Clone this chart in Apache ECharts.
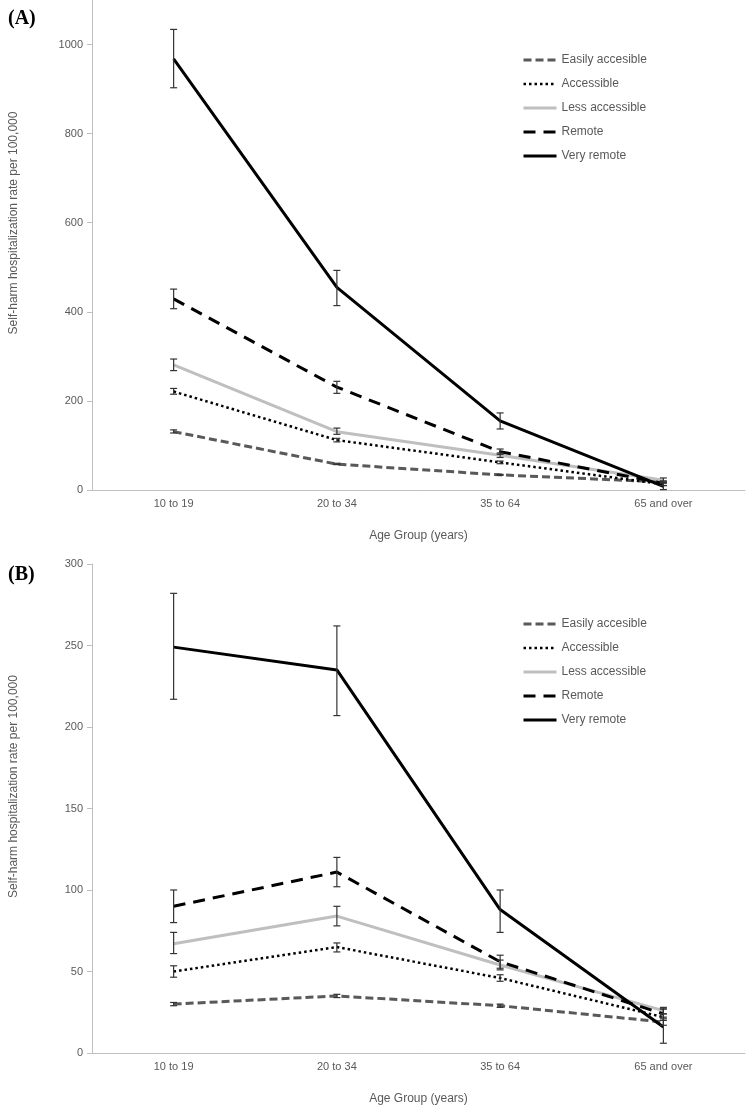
<!DOCTYPE html>
<html>
<head>
<meta charset="utf-8">
<script src="https://cdn.jsdelivr.net/npm/echarts@6/dist/echarts.min.js"></script>
<style>
html,body{margin:0;padding:0;background:#fff;}
#c{width:746px;height:1106px;}
</style>
</head>
<body>
<div id="c"></div>
<script>
const categories = ['10 to 19', '20 to 34', '35 to 64', '65 and over'];
const seriesNames = ['Easily accesible', 'Accessible', 'Less accessible', 'Remote', 'Very remote'];
const yTicksA = [0, 200, 400, 600, 800, 1000];
const yTicksB = [0, 50, 100, 150, 200, 250, 300];

// Panel A values, lower and upper error limits
const A_easily = [131, 58, 34, 18];
const A_easily_lo = [128, 57, 33, 16];
const A_easily_hi = [135, 60, 35, 20];
const A_accessible = [221, 112, 62, 13];
const A_accessible_lo = [215, 108, 59, 10];
const A_accessible_hi = [228, 116, 65, 16];
const A_less = [281, 131, 78, 22];
const A_less_lo = [268, 125, 73, 17];
const A_less_hi = [294, 139, 83, 27];
const A_remote = [429, 231, 86, 15];
const A_remote_lo = [407, 217, 80, 10];
const A_remote_hi = [451, 244, 92, 20];
const A_veryRemote = [968, 455, 155, 8];
const A_veryRemote_lo = [903, 414, 137, 1];
const A_veryRemote_hi = [1034, 493, 173, 16];

// Panel B values, lower and upper error limits
const B_easily = [30, 35, 29, 19];
const B_easily_lo = [29, 34, 28, 17];
const B_easily_hi = [31, 36, 30, 21];
const B_accessible = [50, 65, 46, 22];
const B_accessible_lo = [46.5, 62, 44, 20];
const B_accessible_hi = [53.5, 67.5, 48, 24];
const B_less = [67, 84, 54, 26];
const B_less_lo = [61, 78, 51, 24];
const B_less_hi = [74, 90, 57, 28];
const B_remote = [90, 111, 56, 24];
const B_remote_lo = [80, 102, 52, 22];
const B_remote_hi = [100, 120, 60, 27];
const B_veryRemote = [249, 235, 88, 16];
const B_veryRemote_lo = [217, 207, 74, 6];
const B_veryRemote_hi = [282, 262, 100, 27];

const FONT = 'Liberation Sans, Arial, sans-serif';
const styles = [
  { color: '#595959', width: 3, type: [8, 4] },
  { color: '#000000', width: 2.5, type: [2.5, 3] },
  { color: '#bfbfbf', width: 3, type: 'solid' },
  { color: '#000000', width: 3, type: [12, 8] },
  { color: '#000000', width: 3, type: 'solid' }
];

const panels = [
  { vals: [A_easily, A_accessible, A_less, A_remote, A_veryRemote],
    lo: [A_easily_lo, A_accessible_lo, A_less_lo, A_remote_lo, A_veryRemote_lo],
    hi: [A_easily_hi, A_accessible_hi, A_less_hi, A_remote_hi, A_veryRemote_hi] },
  { vals: [B_easily, B_accessible, B_less, B_remote, B_veryRemote],
    lo: [B_easily_lo, B_accessible_lo, B_less_lo, B_remote_lo, B_veryRemote_lo],
    hi: [B_easily_hi, B_accessible_hi, B_less_hi, B_remote_hi, B_veryRemote_hi] }
];

function renderErr(params, api) {
  const x = api.value(0);
  const lo = api.coord([x, api.value(1)]);
  const hi = api.coord([x, api.value(2)]);
  const w = 3.5;
  const st = { stroke: '#333333', lineWidth: 1.2 };
  return {
    type: 'group',
    children: [
      { type: 'line', shape: { x1: lo[0], y1: lo[1], x2: hi[0], y2: hi[1] }, style: st },
      { type: 'line', shape: { x1: lo[0] - w, y1: lo[1], x2: lo[0] + w, y2: lo[1] }, style: st },
      { type: 'line', shape: { x1: hi[0] - w, y1: hi[1], x2: hi[0] + w, y2: hi[1] }, style: st }
    ]
  };
}

const series = [];
panels.forEach((p, pi) => {
  p.vals.forEach((v, si) => {
    series.push({
      name: seriesNames[si],
      type: 'line',
      xAxisIndex: pi, yAxisIndex: pi,
      data: v,
      symbol: 'none',
      lineStyle: { color: styles[si].color, width: styles[si].width, type: styles[si].type },
      itemStyle: { color: styles[si].color },
      z: 2 + si,
      animation: false
    });
  });
  p.vals.forEach((v, si) => {
    series.push({
      name: 'err' + pi + '_' + si,
      type: 'custom',
      xAxisIndex: pi, yAxisIndex: pi,
      renderItem: renderErr,
      encode: { x: 0, y: [1, 2] },
      data: v.map((_, i) => [i, p.lo[si][i], p.hi[si][i]]),
      z: 10,
      animation: false
    });
  });
});

function xAxis(gi) {
  return {
    type: 'category', gridIndex: gi, data: categories, boundaryGap: true,
    axisLine: { lineStyle: { color: '#bfbfbf', width: 1 } },
    axisTick: { show: false },
    axisLabel: { color: '#595959', fontSize: 11, fontFamily: FONT, margin: 8 },
    name: 'Age Group (years)', nameLocation: 'middle', nameGap: 40,
    nameTextStyle: { color: '#595959', fontSize: 12, fontFamily: FONT }
  };
}
function yAxis(gi, max, ticks) {
  return {
    type: 'value', gridIndex: gi, min: 0, max: max,
    axisLine: { show: true, lineStyle: { color: '#bfbfbf', width: 1 } },
    axisTick: { show: true, length: 5, lineStyle: { color: '#bfbfbf' }, customValues: ticks },
    axisLabel: { color: '#595959', fontSize: 11, fontFamily: FONT, margin: 9, customValues: ticks,
                 formatter: (v) => String(v) },
    splitLine: { show: false },
    name: 'Self-harm hospitalization rate per 100,000', nameLocation: 'middle', nameGap: 72, nameRotate: 90,
    nameTextStyle: { color: '#595959', fontSize: 12, fontFamily: FONT, padding: [0, 0, 0, 44] }
  };
}
function legend(top) {
  return {
    data: seriesNames, orient: 'vertical', left: 522, top: top,
    itemWidth: 33, itemHeight: 14, itemGap: 12, padding: 0,
    itemStyle: { opacity: 0 },
    lineStyle: { width: 'inherit' },
    textStyle: { color: '#595959', fontSize: 12, fontFamily: FONT },
    selectedMode: false
  };
}

const chart = echarts.init(document.getElementById('c'), null, { renderer: 'canvas' });
chart.setOption({
  backgroundColor: '#ffffff',
  animation: false,
  title: [
    { text: '(A)', left: 3, top: 4, textStyle: { fontFamily: 'Liberation Serif, Times New Roman, serif', fontWeight: 'bold', fontSize: 20, color: '#000' } },
    { text: '(B)', left: 3, top: 560, textStyle: { fontFamily: 'Liberation Serif, Times New Roman, serif', fontWeight: 'bold', fontSize: 20, color: '#000' } }
  ],
  legend: [legend(54), legend(618)],
  grid: [
    { left: 87, right: 1, top: 0, height: 490 },
    { left: 87, right: 1, top: 564, height: 490 }
  ],
  xAxis: [xAxis(0), xAxis(1)],
  yAxis: [yAxis(0, 1100, yTicksA), yAxis(1, 300, yTicksB)],
  series: series
});
</script>
</body>
</html>
